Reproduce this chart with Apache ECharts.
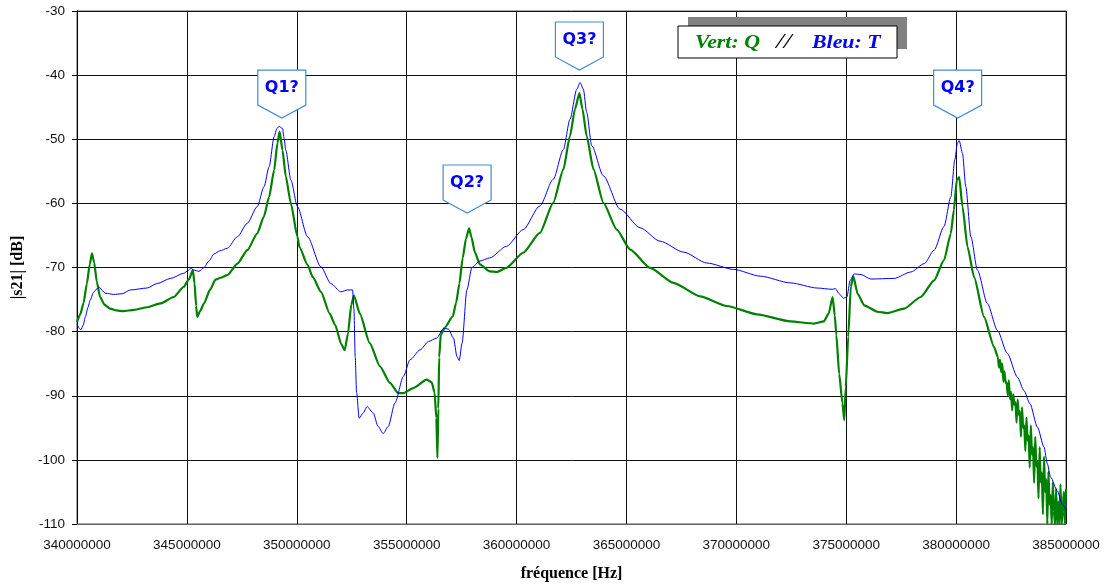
<!DOCTYPE html>
<html>
<head>
<meta charset="utf-8">
<script src="https://cdn.jsdelivr.net/npm/echarts@6/dist/echarts.min.js"></script>
<style>
html,body{margin:0;padding:0;background:#fff;}
#chart{width:1106px;height:587px;}
</style>
</head>
<body>
<div id="chart"></div>
<script>
// ---- Data (frequency in MHz, level in dB) ----
const qFreqMHz = [
340.0,340.15,340.3,340.45,340.58,340.68,340.78,340.9,341.05,341.25,341.5,341.8,342.1,342.6,343.2,343.8,344.4,344.86,345.1,345.27,
345.35,345.42,345.47,345.6,345.78,346.05,346.3,346.53,346.84,347.3,347.75,348.2,348.5,348.74,348.97,349.12,349.22,349.35,349.5,349.73,
350.03,350.12,350.49,350.73,351.1,351.5,351.75,352.03,352.18,352.33,352.48,352.6,352.87,353.32,353.78,354.24,354.62,354.85,355.3,355.91,
356.14,356.27,356.35,356.4,356.44,356.48,356.55,356.73,357.1,357.25,357.4,357.55,357.7,357.84,357.95,358.1,358.33,358.78,359.09,359.54,
360.3,361.06,361.67,362.13,362.43,362.66,362.86,363.0,363.19,363.5,363.95,364.56,365.17,366.08,367.14,368.36,369.57,370.94,372.46,373.53,
373.98,374.2,374.38,374.48,374.55,374.68,374.83,374.91,374.98,375.09,375.21,375.32,375.52,375.82,376.42,376.88,377.64,378.39,379.0,379.45,
379.76,379.9,380.03,380.14,380.29,380.52,380.82,381.27,381.73,
381.90,381.95,382.00,382.05,382.10,382.15,382.20,382.25,382.30,382.35,382.40,382.45,382.50,382.55,382.60,382.65,382.70,382.75,382.80,382.85,
382.90,382.95,383.00,383.05,383.10,383.15,383.20,383.25,383.30,383.35,383.40,383.45,383.50,383.55,383.60,383.65,383.70,383.75,383.80,383.85,
383.90,383.95,384.00,384.05,384.10,384.15,384.20,384.25,384.30,384.35,384.40,384.45,384.50,384.55,384.60,384.65,384.70,384.75,384.80,384.85,
384.90,384.95,385.00
];
const qDb = [
-78.5,-77.3,-75.5,-72.5,-69.5,-67.8,-69.2,-72.2,-74.6,-75.8,-76.4,-76.7,-76.8,-76.6,-76.2,-75.6,-74.6,-73.0,-71.8,-70.4,
-72.5,-76.0,-77.7,-76.8,-75.6,-73.5,-71.9,-71.6,-71.2,-69.4,-67.3,-64.7,-62.1,-59.0,-54.8,-50.6,-48.8,-51.7,-55.8,-60.0,
-65.2,-66.8,-69.6,-71.5,-73.8,-77.2,-79.0,-82.0,-82.9,-80.3,-75.8,-74.4,-77.2,-81.8,-85.4,-88.0,-89.6,-89.6,-88.8,-87.5,
-87.9,-89.5,-93.5,-99.7,-92.0,-84.0,-80.5,-79.4,-77.6,-75.5,-72.5,-68.5,-65.5,-63.9,-65.3,-67.6,-69.5,-70.6,-70.7,-70.05,
-67.7,-64.6,-59.9,-54.7,-49.5,-45.3,-42.8,-45.3,-49.5,-54.7,-59.9,-64.1,-67.2,-70.05,-72.4,-74.5,-76.0,-77.3,-78.4,-78.75,
-78.4,-77.2,-74.6,-77.5,-80.5,-86.6,-91.2,-93.8,-88.6,-80.8,-73.0,-71.35,-74.1,-75.9,-76.9,-77.1,-76.4,-74.6,-72.0,-68.85,
-64.7,-61.0,-56.35,-55.9,-60.5,-66.8,-71.5,-77.7,-82.4,
-84.0,-85.6,-84.4,-86.3,-85.0,-87.8,-86.2,-88.0,-87.9,-89.9,-87.6,-90.5,-89.4,-92.3,-89.8,-91.4,-91.0,-94.2,-90.6,-93.0,
-92.4,-96.4,-91.8,-95.0,-94.6,-98.6,-93.4,-97.0,-96.2,-101.2,-94.6,-99.2,-98.0,-103.6,-96.4,-101.0,-100.2,-106.0,-98.0,-103.5,
-102.0,-108.5,-99.5,-105.0,-103.0,-110.0,-101.8,-107.0,-105.5,-110.0,-103.5,-108.0,-110.0,-104.5,-110.0,-106.5,-110.0,-103.8,-110.0,-108.0,
-105.0,-110.0,-104.5
];
const tFreqMHz = [
340.0,340.08,340.18,340.28,340.38,340.5,340.6,340.75,340.91,341.03,341.15,341.29,341.67,342.05,342.43,343.19,343.65,344.26,344.86,345.05,
345.17,345.32,345.55,345.78,346.0,346.23,346.5,346.84,347.3,347.75,348.2,348.51,348.74,348.97,349.1,349.19,349.35,349.42,349.5,349.73,
350.03,350.49,351.1,351.55,352.0,352.31,352.54,352.6,352.66,352.72,352.84,353.02,353.2,353.48,353.7,353.93,354.16,354.47,354.85,355.15,
355.61,355.99,356.37,356.68,356.9,357.13,357.29,357.39,357.52,357.74,357.97,358.33,358.78,359.54,360.3,361.06,361.67,362.13,362.43,362.74,
362.89,363.04,363.19,363.42,363.95,364.71,365.62,366.53,367.6,368.66,369.88,371.09,372.46,373.68,374.36,374.51,374.68,374.88,375.03,375.18,
375.36,375.67,376.12,377.18,377.94,378.55,379.0,379.45,379.76,379.94,380.06,380.14,380.29,380.44,380.67,380.97,381.42,381.88,382.33,382.79,
383.09,383.36,383.7,384.0,384.15,384.3,384.6,384.83,385.0
];
const tDb = [
-78.75,-79.4,-79.7,-79.0,-77.7,-76.2,-75.1,-73.9,-73.3,-73.1,-73.6,-74.0,-74.2,-74.1,-73.5,-73.2,-72.5,-71.7,-70.9,-70.5,
-70.1,-70.4,-70.6,-70.0,-69.0,-67.9,-67.4,-67.0,-65.2,-63.1,-60.5,-57.4,-54.3,-49.6,-48.3,-48.0,-48.3,-49.8,-51.7,-56.35,
-60.5,-65.2,-69.9,-72.5,-73.8,-73.5,-73.5,-76.5,-84.0,-89.5,-93.5,-92.7,-91.7,-92.7,-94.8,-95.9,-94.8,-91.1,-87.0,-84.4,
-82.85,-81.55,-81.0,-79.5,-79.6,-81.0,-83.9,-84.5,-81.8,-73.5,-70.0,-69.0,-68.5,-66.7,-64.1,-60.4,-56.25,-51.6,-46.9,-42.2,
-41.15,-42.2,-45.8,-51.0,-55.7,-60.9,-63.8,-65.9,-67.6,-69.3,-70.3,-71.35,-72.4,-73.2,-73.4,-73.3,-74.1,-74.8,-74.6,-72.0,
-71.0,-71.1,-71.8,-71.7,-70.7,-69.4,-67.3,-63.6,-59.0,-53.2,-50.6,-50.2,-52.2,-57.4,-65.2,-70.4,-75.6,-79.8,-83.4,-87.1,
-89.2,-91.25,-94.9,-98.0,-100.6,-102.7,-104.8,-106.9,-107.8
];
const calloutLabels = ['Q1?','Q2?','Q3?','Q4?'];
const calloutFreqMHz = [349.32, 357.75, 362.86, 380.07];
const calloutDb = [-46.7, -61.5, -39.2, -46.7];
const yAxisTitle = '|s21| [dB]';
const xAxisTitle = 'fréquence [Hz]';
const legendParts = ['Vert: Q', '//', 'Bleu: T'];

const MHZ = 1e6;
const qData = qFreqMHz.map((f, i) => [f * MHZ, qDb[i]]);
const tData = tFreqMHz.map((f, i) => [f * MHZ, tDb[i]]);
const calloutData = calloutLabels.map((n, i) => ({ name: n, coord: [calloutFreqMHz[i] * MHZ, calloutDb[i]] }));

const chart = echarts.init(document.getElementById('chart'), null, { renderer: 'canvas' });
const labelFont = 'Liberation Sans, Arial, sans-serif';
const serif = 'Liberation Serif, Times New Roman, serif';
const legendFont = 'italic bold 19px ' + serif;

chart.setOption({
  animation: false,
  backgroundColor: '#fff',
  grid: { left: 77, right: 40, top: 11, bottom: 63, show: true, borderColor: '#555', borderWidth: 1, backgroundColor: 'transparent' },
  xAxis: {
    type: 'value', min: 340 * MHZ, max: 385 * MHZ, interval: 5 * MHZ,
    name: xAxisTitle, nameLocation: 'middle', nameGap: 42,
    nameTextStyle: { fontFamily: serif, fontWeight: 'bold', fontSize: 16, color: '#000' },
    axisLine: { show: true, lineStyle: { color: '#666', width: 1 } },
    axisTick: { show: false },
    axisLabel: { formatter: v => v.toFixed(0), fontFamily: labelFont, fontSize: 13.5, color: '#111', margin: 14 },
    splitLine: { show: true, lineStyle: { color: '#111', width: 1 } }
  },
  yAxis: {
    type: 'value', min: -110, max: -30, interval: 10,
    name: yAxisTitle, nameLocation: 'middle', nameGap: 51, nameRotate: 90,
    nameTextStyle: { fontFamily: serif, fontWeight: 'bold', fontSize: 16, color: '#000' },
    axisLine: { show: true, lineStyle: { color: '#000', width: 1 } },
    axisTick: { show: true, length: 5, lineStyle: { color: '#000' } },
    axisLabel: { fontFamily: labelFont, fontSize: 13.5, color: '#111', margin: 12 },
    splitLine: { show: true, lineStyle: { color: '#111', width: 1 } }
  },
  series: [
    {
      name: 'Q', type: 'line', data: qData, showSymbol: false, symbol: 'none',
      smooth: 0.2, smoothMonotone: 'x',
      lineStyle: { color: '#008000', width: 2.2 }, z: 3, sampling: null
    },
    {
      name: 'T', type: 'line', data: tData, showSymbol: false, symbol: 'none',
      smooth: 0.25, smoothMonotone: 'x',
      lineStyle: { color: '#0000ff', width: 1 }, z: 4,
      markPoint: {
        symbol: 'path://M0,0 L48,0 L48,35 L24,48 L0,35 Z',
        symbolSize: [48, 48], symbolOffset: [0, '-50%'], symbolKeepAspect: false,
        itemStyle: { color: '#fff', borderColor: '#3f8bd8', borderWidth: 1.2 },
        label: { show: true, formatter: '{b}', offset: [0, -6], color: '#0000ff', fontFamily: 'DejaVu Sans, Verdana, sans-serif', fontWeight: 'bold', fontSize: 16 },
        data: calloutData, z: 10
      }
    }
  ],
  graphic: [
    { type: 'rect', shape: { x: 688, y: 17, width: 219, height: 32 }, style: { fill: '#808080' }, z: 20 },
    { type: 'rect', shape: { x: 678, y: 26, width: 219, height: 32 }, style: { fill: '#fff', stroke: '#000', lineWidth: 1 }, z: 21 },
    { type: 'text', x: 695, y: 43, scaleX: 1.15, z: 22,
      style: { text: legendParts[0], fill: '#008000', font: legendFont, verticalAlign: 'middle', align: 'left' } },
    { type: 'text', x: 776, y: 43, scaleX: 1.4, z: 22,
      style: { text: legendParts[1], fill: '#000', font: 'italic 20px ' + serif, verticalAlign: 'middle', align: 'left' } },
    { type: 'text', x: 812, y: 43, scaleX: 1.15, z: 22,
      style: { text: legendParts[2], fill: '#0000ff', font: legendFont, verticalAlign: 'middle', align: 'left' } }
  ]
});
</script>
</body>
</html>
